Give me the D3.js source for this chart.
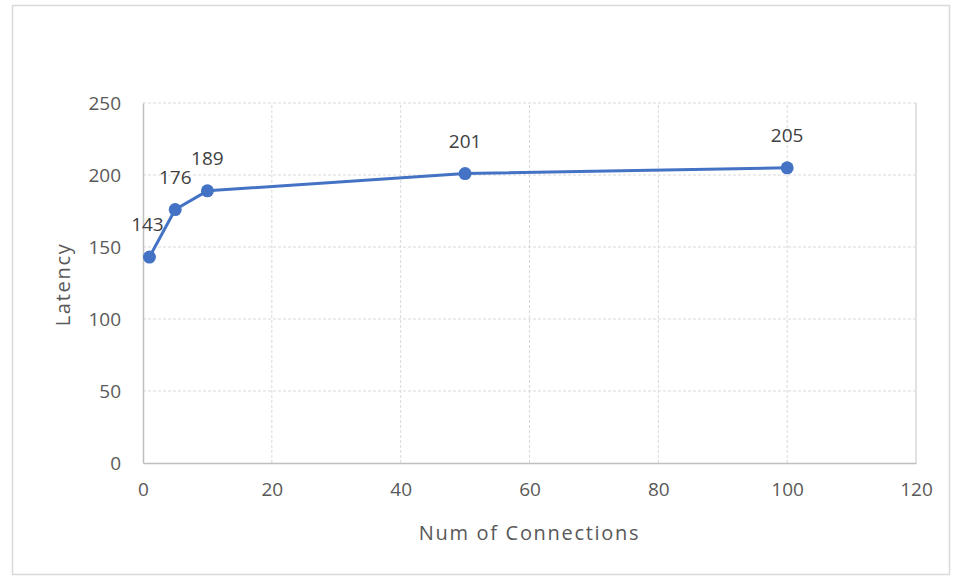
<!DOCTYPE html>
<html><head><meta charset="utf-8">
<script src="https://cdn.jsdelivr.net/npm/d3@7"></script>
<style>body{margin:0;background:#fff;} text{font-family:"Open Sans",sans-serif;}</style>
</head><body>
<svg id="c" width="954" height="578"></svg>
<script>
const connections = [1, 5, 10, 50, 100];
const latency = [143, 176, 189, 201, 205];
const xTicks = [0, 20, 40, 60, 80, 100, 120];
const yTicks = [0, 50, 100, 150, 200, 250];

const svg = d3.select("#c");
const textColor = "#595959";
svg.append("rect").attr("x", 12.5).attr("y", 5.5).attr("width", 937).attr("height", 569)
  .attr("fill", "#fff").attr("stroke", "#d9d9d9").attr("stroke-width", 1.5);

const x = d3.scaleLinear().domain([0, 120]).range([143, 916]);
const y = d3.scaleLinear().domain([0, 250]).range([463, 103]);

// gridlines
svg.append("g").selectAll("line").data(yTicks.filter(d => d > 0)).join("line")
  .attr("x1", x(0)).attr("x2", x(120)).attr("y1", d => y(d)).attr("y2", d => y(d))
  .attr("stroke", "#d9d9d9").attr("stroke-width", 1).attr("stroke-dasharray", "3,2");
svg.append("g").selectAll("line").data(xTicks.filter(d => d > 0 && d < 120)).join("line")
  .attr("y1", y(0)).attr("y2", y(250)).attr("x1", d => x(d)).attr("x2", d => x(d))
  .attr("stroke", "#d9d9d9").attr("stroke-width", 1).attr("stroke-dasharray", "3,2");
// right border
svg.append("line").attr("x1", x(120)).attr("x2", x(120)).attr("y1", y(0)).attr("y2", y(250))
  .attr("stroke", "#d9d9d9").attr("stroke-width", 1.5);

// axes
const xAxis = svg.append("g").attr("transform", `translate(0,${y(0)})`)
  .call(d3.axisBottom(x).tickValues(xTicks).tickSize(0).tickPadding(20));
const yAxis = svg.append("g").attr("transform", `translate(${x(0)},0)`)
  .call(d3.axisLeft(y).tickValues(yTicks).tickSize(0).tickPadding(22));
[xAxis, yAxis].forEach(a => {
  a.select(".domain").attr("stroke", "#bfbfbf").attr("stroke-width", 1.5);
  a.selectAll("text").attr("fill", textColor).attr("font-size", 19).attr("font-family", "Open Sans");
});

// line
const line = d3.line().x((d, i) => x(connections[i])).y(d => y(d));
svg.append("path").datum(latency).attr("d", line).attr("fill", "none")
  .attr("stroke", "#4472C4").attr("stroke-width", 3).attr("stroke-linejoin", "round");
svg.append("g").selectAll("circle").data(latency).join("circle")
  .attr("cx", (d, i) => x(connections[i])).attr("cy", d => y(d)).attr("r", 6.5)
  .attr("fill", "#4472C4");

// labels
const dx = [-2, 0, 0, 0, 0];
svg.append("g").selectAll("text").data(latency).join("text")
  .attr("x", (d, i) => x(connections[i]) + dx[i]).attr("y", d => y(d) - 26)
  .attr("text-anchor", "middle").attr("fill", "#404040").attr("font-size", 19)
  .text(d => d);

// titles
svg.append("text").attr("x", x(60)).attr("y", 540).attr("text-anchor", "middle")
  .attr("fill", textColor).attr("font-size", 20).attr("letter-spacing", 1.7).text("Num of Connections");
svg.append("text").attr("transform", `translate(70,${y(124)}) rotate(-90)`)
  .attr("text-anchor", "middle").attr("fill", textColor).attr("font-size", 20)
  .attr("letter-spacing", 1.7).text("Latency");
</script>
</body></html>
